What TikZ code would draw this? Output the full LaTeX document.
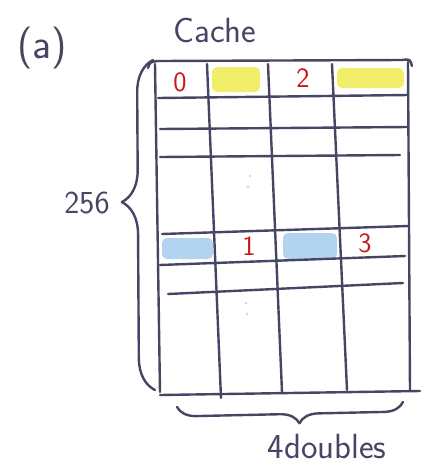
\documentclass[tikz,border=0pt]{standalone}
\usetikzlibrary{decorations.pathreplacing}
\definecolor{ink}{RGB}{70,70,100}
\definecolor{pen}{RGB}{200,25,30}
\definecolor{marker}{RGB}{238,236,80}
\definecolor{crayon}{RGB}{165,205,238}

\begin{document}
\begin{tikzpicture}[x=1pt, y=-1pt, line width=2.4pt, line cap=round, line join=round,
  pen line/.style={draw=ink},
  lbl/.style={text=ink, inner sep=0pt, font=\sffamily\fontsize{32}{36}\selectfont},
  num/.style={text=pen, inner sep=0pt, font=\sffamily\fontsize{28}{30}\selectfont},
  hl/.style={rounded corners=5pt, draw=none, opacity=0.85}]
  \useasboundingbox (0,0) rectangle (429,467);

  % coloured cells
  \fill[marker, hl] (212,67) rectangle (260,92);
  \fill[marker, hl] (337,68) rectangle (404,88);
  \fill[crayon, hl] (162,238) rectangle (213,259);
  \fill[crayon, hl] (283,233) rectangle (337,259);

  % columns
  \draw[pen line] (155,64) -- (160,392);
  \draw[pen line] (207,64) -- (221,398);
  \draw[pen line] (268,64) -- (282,392);
  \draw[pen line] (332,64) -- (347,390);
  \draw[pen line] (408,62) -- (410,390);

  % rows
  \draw[pen line] (148,68) .. controls (150,62) .. (158,61) -- (402,60) .. controls (410,59) .. (412,66);
  \draw[pen line] (158,98) -- (408,95);
  \draw[pen line] (160,129) -- (408,127);
  \draw[pen line] (160,157) -- (400,155);
  \draw[pen line] (162,234) -- (408,226);
  \draw[pen line] (160,265) -- (405,256);
  \draw[pen line] (168,294) -- (403,283);
  \draw[pen line] (160,395) -- (420,391);

  % faint dots
  \fill[ink!25] (250,176) circle (1.4pt) (248,187) circle (1.4pt);
  \fill[ink!25] (246,303) circle (1.4pt) (247,314) circle (1.4pt);

  % labels
  \node[lbl, font=\sffamily\fontsize{42}{46}\selectfont] (tag) at (42,48) {(a)};
  \node[lbl, font=\sffamily\fontsize{35}{38}\selectfont] (title) at (215,30) {Cache};
  \node[lbl] (rows) at (87,203) {256};
  \node[lbl, font=\sffamily\fontsize{35}{38}\selectfont] (cols) at (327,446) {4doubles};

  % element numbers
  \node[num] (e0) at (180,82) {0};
  \node[num] (e2) at (303,78) {2};
  \node[num] (e1) at (249,246) {1};
  \node[num] (e3) at (365,243) {3};

  % braces
  \draw[pen line, decorate, decoration={brace, amplitude=32pt, aspect=0.57}] (155,390) -- (153,60);
  \draw[pen line, decorate, decoration={brace, amplitude=19pt, aspect=0.46}] (403,402) -- (177,407);
\end{tikzpicture}
\end{document}
